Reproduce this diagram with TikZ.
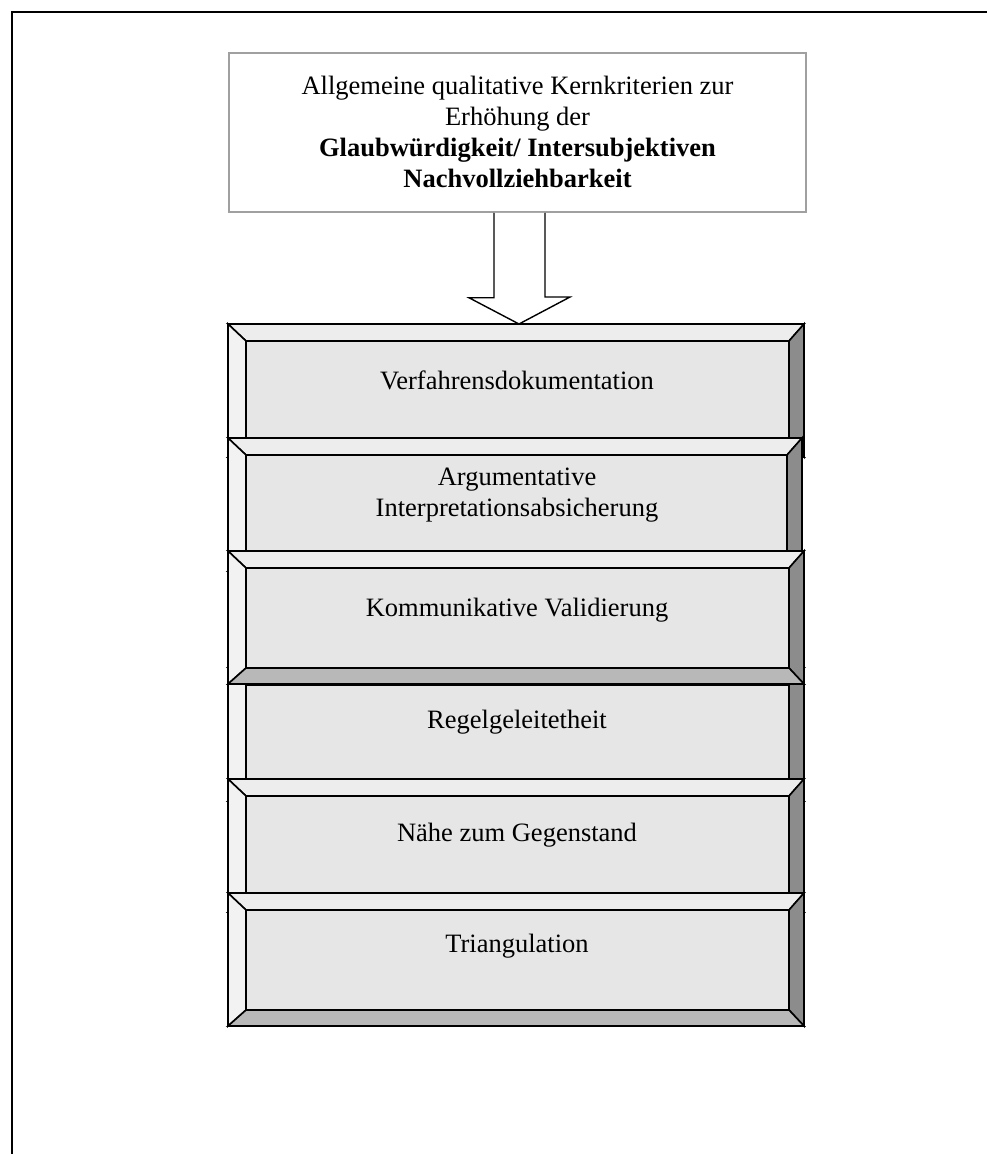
\documentclass[tikz,border=0pt]{standalone}
\usepackage{fontspec}
\setmainfont{Liberation Serif}
\definecolor{bvtop}{HTML}{EDEDED}
\definecolor{bvleft}{HTML}{F2F2F2}
\definecolor{bvface}{HTML}{E6E6E6}
\definecolor{bvright}{HTML}{8C8C8C}
\definecolor{bvbottom}{HTML}{B8B8B8}
\definecolor{headline}{HTML}{A0A0A0}
% Bevelled panel: #1 left, #2 right, #3 top, #4 bottom (y grows downwards)
\newcommand\bevelpanel[4]{%
  \fill[bvface] (#1,#3) rectangle (#2,#4);
  \filldraw[bvtop,panelline] (#1,#3) -- (#2,#3) -- (#2-15,#3+17) -- (#1+18,#3+17) -- cycle;
  \filldraw[bvleft,panelline] (#1,#3) -- (#1+18,#3+17) -- (#1+18,#4-16) -- (#1,#4) -- cycle;
  \filldraw[bvright,panelline] (#2,#3) -- (#2,#4) -- (#2-15,#4-16) -- (#2-15,#3+17) -- cycle;
  \filldraw[bvbottom,panelline] (#1,#4) -- (#2,#4) -- (#2-15,#4-16) -- (#1+18,#4-16) -- cycle;
  \draw[panelline] (#1+18,#3+17) rectangle (#2-15,#4-16);
  \draw[panelline] (#1,#3) rectangle (#2,#4);
}
\begin{document}
\begin{tikzpicture}[x=1pt,y=-1pt,
  panelline/.style={draw=black,line width=1.6pt,line join=miter},
  paneltext/.style={font=\fontsize{26.5}{31}\selectfont,align=center,text=black,inner sep=0pt},
  headbox/.style={draw=headline,line width=1.5pt,fill=white,minimum width=577pt,minimum height=159pt,inner sep=0pt},
  headtext/.style={align=center,font=\fontsize{26.5}{31}\selectfont,inner sep=0pt},
  blockarrow/.style={draw=black,line width=1.4pt,fill=white,line join=miter}]
\useasboundingbox (0,0) rectangle (987,1154);
\fill[white] (0,0) rectangle (987,1154);
% page frame
\draw[line width=2pt] (987,12) -- (12,12) -- (12,1154);

% heading
\node[headbox] (head) at (517.5,132.5) {};
\node[headtext] (headlabel) at (517.5,131.5) {Allgemeine qualitative Kernkriterien zur\\Erhöhung der\\\textbf{Glaubwürdigkeit/ Intersubjektiven}\\\textbf{Nachvollziehbarkeit}};

% panels (drawn so that each overlaps as shown)
\bevelpanel{228}{804}{324}{457}
\bevelpanel{228}{802}{438}{571}
\bevelpanel{228}{804}{668}{801}
\bevelpanel{228}{804}{551}{684}
\bevelpanel{228}{804}{779}{912}
\bevelpanel{228}{804}{893}{1026}

\node[paneltext] (p1) at (517,380) {Verfahrensdokumentation};
\node[paneltext] (p2) at (517,495) {Argumentative\\Interpretationsabsicherung};
\node[paneltext] (p3) at (517,610) {Kommunikative Validierung};
\node[paneltext] (p4) at (517,722) {Regelgeleitetheit};
\node[paneltext] (p5) at (517,835) {Nähe zum Gegenstand};
\node[paneltext] (p6) at (517,946) {Triangulation};

% block arrow from heading to first panel
\coordinate (tip) at (519,324);
\draw[blockarrow] ([xshift=-25pt]head.south -| tip) -- ++(0,85) -- ++(-25,0) -- (tip)
  -- ++(51,-27) -- ++(-25,0) -- ([xshift=26pt]head.south -| tip);
\end{tikzpicture}
\end{document}
